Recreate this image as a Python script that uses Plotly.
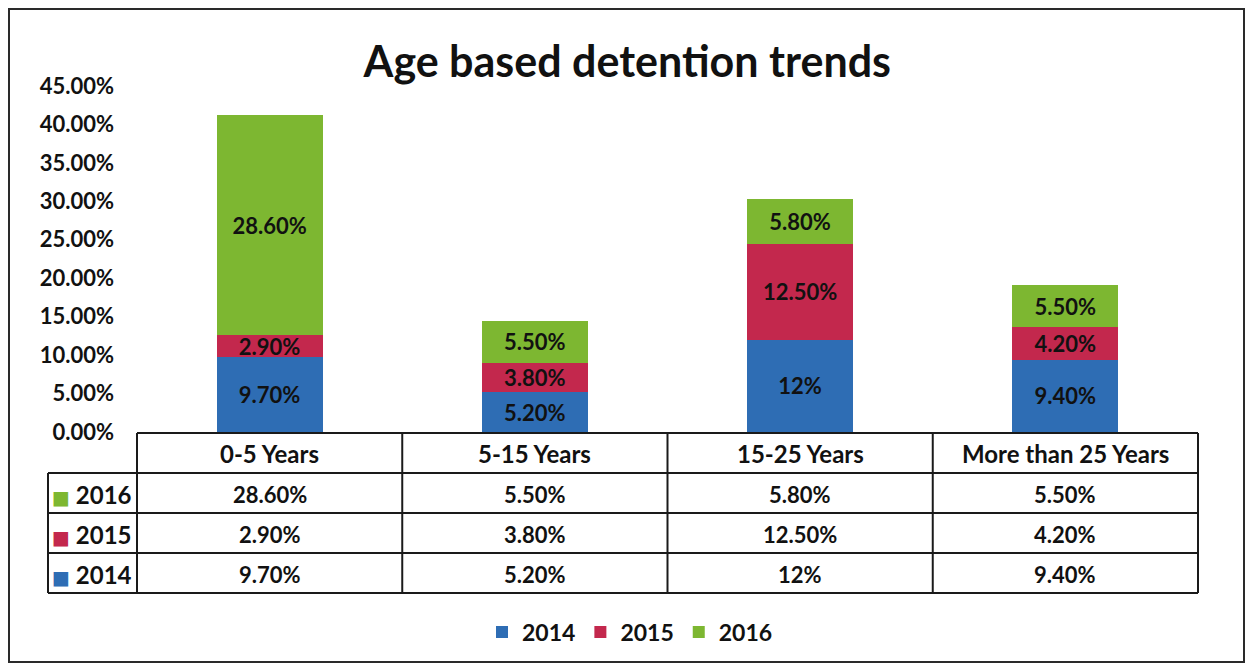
import plotly.graph_objects as go

# ---------------- data ----------------
categories = ["0-5 Years", "5-15 Years", "15-25 Years", "More than 25 Years"]
years = ["2014", "2015", "2016"]
values_2014 = [0.097, 0.052, 0.12, 0.094]
values_2015 = [0.029, 0.038, 0.125, 0.042]
values_2016 = [0.286, 0.055, 0.058, 0.055]
labels_2014 = ["9.70%", "5.20%", "12%", "9.40%"]
labels_2015 = ["2.90%", "3.80%", "12.50%", "4.20%"]
labels_2016 = ["28.60%", "5.50%", "5.80%", "5.50%"]
colors = {"2014": "#2E6DB4", "2015": "#C3284D", "2016": "#7DB731"}
title_text = "Age based detention trends"

series = {
    "2014": (values_2014, labels_2014),
    "2015": (values_2015, labels_2015),
    "2016": (values_2016, labels_2016),
}

# ---------------- layout geometry (pixels) ----------------
W, H = 1247, 665
L, R, T, B = 137, 49, 86, 233
PW = W - L - R
PH = H - T - B
FONT = "Lato"
FS_NUM = 22   # numeric text
FS_WORD = 24  # word text
INK = "#111111"


def fx(px):
    return (px - L) / PW


def fy(py):
    return (H - B - py) / PH


fig = go.Figure()
for yr in years:
    vals, labs = series[yr]
    fig.add_trace(go.Bar(
        x=categories, y=vals, name=yr, text=labs,
        marker=dict(color=colors[yr], line=dict(width=0)),
        width=0.4,
        textposition="inside", insidetextanchor="middle",
        textfont=dict(family=FONT, size=FS_NUM, color=INK, weight="bold"),
        textangle=0,
        hoverinfo="skip",
    ))

shapes = []
annotations = []
line = dict(color="#1a1a1a", width=2)

# outer frame
shapes.append(dict(type="rect", xref="paper", yref="paper",
                   x0=fx(9), x1=fx(1244), y0=fy(662), y1=fy(9),
                   line=dict(color="#2a2a2a", width=2), fillcolor="rgba(0,0,0,0)"))

# table grid
row_lines = [433, 473, 513, 553, 593]
left_col = 48
for i, py in enumerate(row_lines):
    x0 = L if i == 0 else left_col
    shapes.append(dict(type="line", xref="paper", yref="paper",
                       x0=fx(x0), x1=1, y0=fy(py), y1=fy(py), line=line))
shapes.append(dict(type="line", xref="paper", yref="paper",
                   x0=fx(left_col), x1=fx(left_col), y0=fy(473), y1=fy(593), line=line))
n = len(categories)
for k in range(n + 1):
    shapes.append(dict(type="line", xref="paper", yref="paper",
                       x0=k / n, x1=k / n, y0=fy(433), y1=fy(593), line=line))

num_font = dict(family=FONT, size=FS_NUM, color=INK, weight="bold")
word_font = dict(family=FONT, size=FS_WORD, color=INK, weight="bold")
# header row
for c in categories:
    annotations.append(dict(x=c, xref="x", y=fy(454), yref="paper", text=c,
                            showarrow=False, font=word_font, xanchor="center", yanchor="middle"))
# data rows (2016, 2015, 2014)
row_centers = {"2016": 494, "2015": 534, "2014": 574}
for yr in ["2016", "2015", "2014"]:
    vals, labs = series[yr]
    cy = fy(row_centers[yr])
    annotations.append(dict(x=fx(left_col + 2), xref="paper", y=cy, yref="paper",
                            text=f'<span style="color:{colors[yr]};font-family:DejaVu Sans;font-size:19px">■</span> {yr}',
                            showarrow=False, font=dict(family=FONT, size=24, color=INK, weight="bold"),
                            xanchor="left", yanchor="middle"))
    for c, lab in zip(categories, labs):
        annotations.append(dict(x=c, xref="x", y=cy, yref="paper", text=lab,
                                showarrow=False, font=num_font, xanchor="center", yanchor="middle"))

fig.update_layout(
    width=W, height=H,
    margin=dict(l=L, r=R, t=T, b=B),
    paper_bgcolor="white", plot_bgcolor="white",
    barmode="stack", bargap=0.6,
    title=dict(text=title_text, x=0.503, xanchor="center", y=1 - 62 / H, yanchor="middle",
               font=dict(family=FONT, size=43, color=INK, weight="bold")),
    xaxis=dict(showticklabels=False, showgrid=False, zeroline=False, showline=False,
               range=[-0.5, n - 0.5], fixedrange=True),
    yaxis=dict(range=[0, 0.45], dtick=0.05, tickformat=".2%", showgrid=False,
               zeroline=False, showline=False, ticks="", ticklabelstandoff=22,
               tickfont=dict(family=FONT, size=FS_NUM, color=INK, weight="bold")),
    legend=dict(orientation="h", x=fx(630), xanchor="center", y=fy(632), yanchor="middle",
                traceorder="normal", font=dict(family=FONT, size=23, color=INK, weight="bold"),
                itemwidth=30),
    uniformtext=dict(mode="show", minsize=FS_NUM),
    shapes=shapes,
    annotations=annotations,
)

fig.write_html("out.html", config={"displayModeBar": False},
               post_script="document.body.style.margin='0';")
